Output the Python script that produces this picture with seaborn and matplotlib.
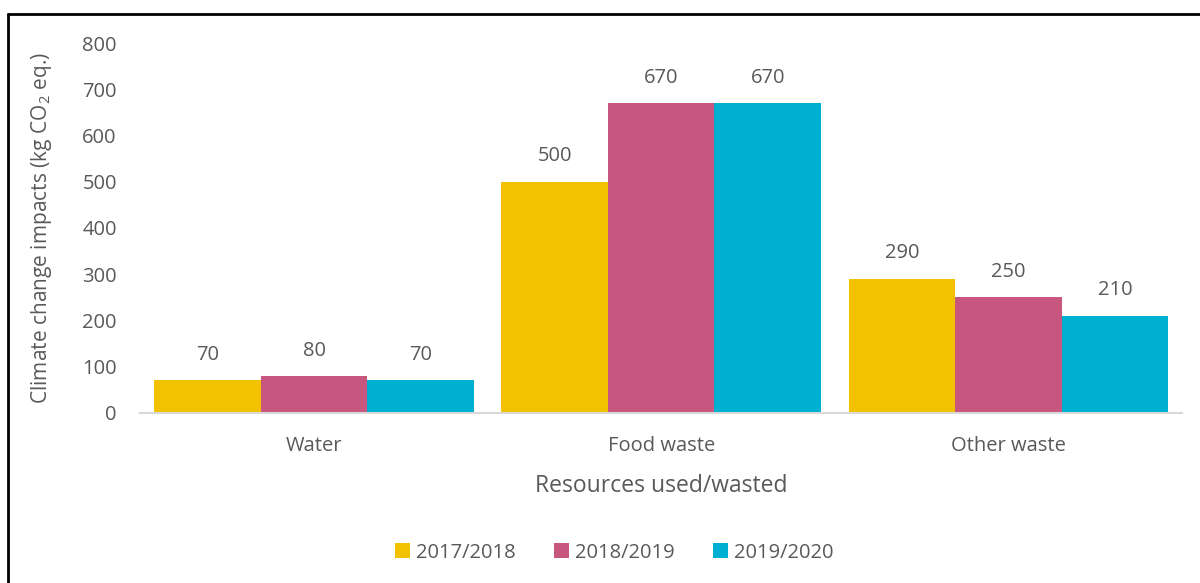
import pandas as pd
import matplotlib.pyplot as plt
from matplotlib.lines import Line2D
import seaborn as sns

# data
resources = ['Water', 'Food waste', 'Other waste']
years = ['2017/2018', '2018/2019', '2019/2020']
impact_1718 = [70, 500, 290]
impact_1819 = [80, 670, 250]
impact_1920 = [70, 670, 210]
y_ticks = [0, 100, 200, 300, 400, 500, 600, 700, 800]

colors = ['#F2C200', '#C85780', '#00B0D2']
text_color = '#595959'

df = pd.DataFrame({
    'resource': resources * 3,
    'year': [years[0]] * 3 + [years[1]] * 3 + [years[2]] * 3,
    'value': impact_1718 + impact_1819 + impact_1920,
})

sns.set_style('white')
plt.rcParams['font.family'] = ['Open Sans', 'DejaVu Sans']
plt.rcParams['mathtext.fontset'] = 'custom'
plt.rcParams['mathtext.rm'] = 'Open Sans'
plt.rcParams['mathtext.it'] = 'Open Sans'

fig = plt.figure(figsize=(12, 5.83), dpi=100)
ax = fig.add_axes([0.117, 0.292, 0.868, 0.634])

sns.barplot(data=df, x='resource', y='value', hue='year', palette=colors,
            width=0.92, saturation=1, edgecolor='none', linewidth=0, ax=ax)

# data labels
for cont in ax.containers:
    ax.bar_label(cont, fmt='%d', padding=11, fontsize=14.5, color=text_color)

ax.set_ylim(0, 800)
ax.set_yticks(y_ticks)
ax.set_xlim(-0.5, 2.5)
ax.tick_params(axis='both', length=0, labelsize=14.5, colors=text_color)
ax.tick_params(axis='y', pad=17)
ax.tick_params(axis='x', pad=17)
for side in ['top', 'right', 'left']:
    ax.spines[side].set_visible(False)
ax.spines['bottom'].set_color('#D9D9D9')
ax.spines['bottom'].set_linewidth(1.5)

ax.set_xlabel('Resources used/wasted', fontsize=16.5, color=text_color, labelpad=13)
ax.set_ylabel('Climate change impacts (kg CO$_2$ eq.)', fontsize=15,
              color=text_color, labelpad=20)

leg = ax.legend(loc='center', bbox_to_anchor=(0.455, -0.379), ncol=3, frameon=False,
                fontsize=14.5, handlelength=0.75, handleheight=0.75,
                handletextpad=0.3, columnspacing=1.9)
for t in leg.get_texts():
    t.set_color(text_color)

# outer frame (top and left edges visible in the reference)
fig.add_artist(Line2D([0.0067, 0.0067], [0.0, 0.976], transform=fig.transFigure,
                      color='black', linewidth=2))
fig.add_artist(Line2D([0.0067, 1.0], [0.976, 0.976], transform=fig.transFigure,
                      color='black', linewidth=2))

plt.savefig('out.png', dpi=100)
